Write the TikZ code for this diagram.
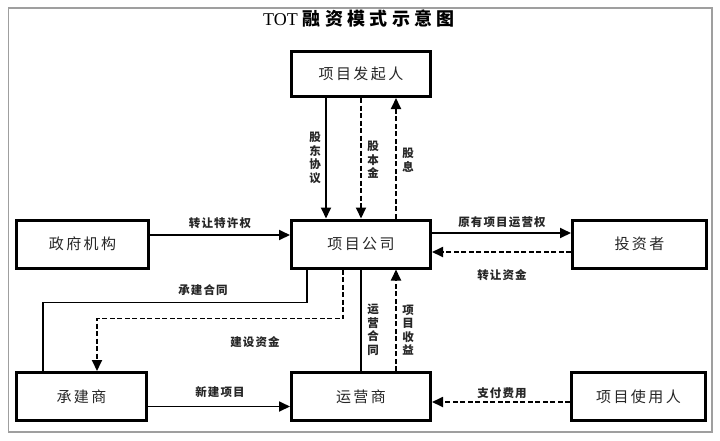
\documentclass[tikz,border=0pt]{standalone}
\usepackage{fontspec}
\setmainfont{Liberation Serif}
\newfontfamily\cjk{Noto Sans CJK SC}
\newfontfamily\cjkbox[LetterSpace=16]{Noto Sans CJK SC}
\newfontfamily\cjklbl[LetterSpace=10]{Noto Sans CJK SC}
\newfontfamily\cjktitle[LetterSpace=24]{Noto Sans CJK SC}
\usetikzlibrary{arrows.meta}
\tikzset{
  box/.style={draw=black, line width=3pt, inner sep=0pt, font=\cjkbox\fontsize{15}{17}\selectfont, text=black!85},
  lbl/.style={font=\cjklbl\bfseries\fontsize{11.5}{13}\selectfont, text=black!85, inner sep=0pt},
  vlbl/.style={lbl, align=center, font=\cjk\bfseries\fontsize{11.5}{13.5}\selectfont},
  con/.style={line width=1.8pt},
  arr/.style={con, -{Triangle[width=10pt,length=11pt]}},
  darr/.style={arr, dash pattern=on 5pt off 2.5pt},
}
\begin{document}
\begin{tikzpicture}[x=1pt,y=-1pt]
\useasboundingbox (0,0) rectangle (720,440);
\fill[white] (0,0) rectangle (720,440);
\draw[gray!75, line width=1.1pt] (8.5,8) rectangle (712,432);
\node[font=\fontsize{18}{20}\selectfont, inner sep=0pt] (title) at (359,19) {TOT\hspace{5pt}{\cjktitle\bfseries 融资模式示意图}};

\node[box, minimum width=139pt, minimum height=45pt] (fq) at (361,74) {项目发起人};
\node[box, minimum width=139pt, minimum height=48pt] (gs) at (361,244) {项目公司};
\node[box, minimum width=132pt, minimum height=48pt] (zf) at (82.5,244) {政府机构};
\node[box, minimum width=134pt, minimum height=48pt] (tz) at (639.5,244) {投资者};
\node[box, minimum width=130pt, minimum height=48pt] (cj) at (81.5,396.5) {承建商};
\node[box, minimum width=139pt, minimum height=48pt] (yy) at (361,396.5) {运营商};
\node[box, minimum width=134pt, minimum height=48pt] (sy) at (638.5,396.5) {项目使用人};

% top connectors
\draw[arr] ([xshift=-35pt]fq.south) -- ([xshift=-35pt]gs.north);
\draw[darr] (fq.south) -- (gs.north);
\draw[darr] ([xshift=35pt]gs.north) -- ([xshift=35pt]fq.south);
% middle row
\draw[arr] ([yshift=9pt]zf.east) -- ([yshift=9pt]gs.west);
\draw[arr] ([yshift=11pt]gs.east) -- ([yshift=11pt]tz.west);
\draw[darr] ([yshift=-8pt]tz.west) -- ([yshift=-8pt]gs.east);
% elbows to contractor
\draw[con] ([xshift=-54pt]gs.south) -- ++(0,33) -| ([xshift=-38.5pt]cj.north);
\draw[darr] ([xshift=-18pt]gs.south) -- ++(0,49) -| ([xshift=15.5pt]cj.north);
% bottom row
\draw[arr] ([yshift=-10pt]cj.east) -- ([yshift=-10pt]yy.west);
\draw[con] (yy.north) -- (gs.south);
\draw[darr] ([xshift=35pt]yy.north) -- ([xshift=35pt]gs.south);
\draw[darr] ([yshift=-5.5pt]sy.west) -- ([yshift=-5.5pt]yy.east);

% labels
\node[vlbl] (l1) at (315,158) {股\\东\\协\\议};
\node[vlbl] (l2) at (373,160) {股\\本\\金};
\node[vlbl] (l3) at (408,160) {股\\息};
\node[lbl] (l4) at (220,223) {转让特许权};
\node[lbl] (l5) at (502,222) {原有项目运营权};
\node[lbl] (l6) at (502,275) {转让资金};
\node[lbl] (l7) at (203,290) {承建合同};
\node[lbl] (l8) at (255,342) {建设资金};
\node[lbl] (l9) at (220,392) {新建项目};
\node[vlbl] (l10) at (373,330) {运\\营\\合\\同};
\node[vlbl] (l11) at (408,330) {项\\目\\收\\益};
\node[lbl] (l12) at (502,393) {支付费用};
\end{tikzpicture}
\end{document}
